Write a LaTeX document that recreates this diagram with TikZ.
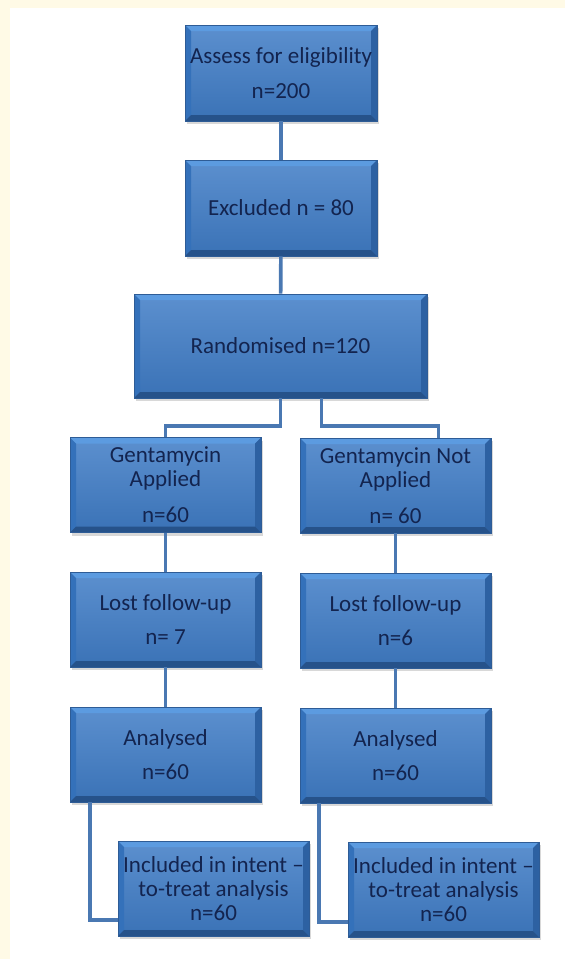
\documentclass[tikz,border=0pt]{standalone}
\usepackage{fontspec}
\setmainfont{Carlito}
\usepackage{xcolor}
\usepackage{tikz}
\usetikzlibrary{shadows}

\definecolor{cream}{HTML}{FFFAE6}
\definecolor{boxface}{HTML}{3F7CC6}
\definecolor{boxtop}{HTML}{5C9BE0}
\definecolor{boxside}{HTML}{3471BA}
\definecolor{boxdark}{HTML}{2D61A2}
\definecolor{boxline}{HTML}{2E5C96}
\definecolor{linkblue}{HTML}{4A78B2}
\definecolor{navy}{HTML}{13244F}

\begin{document}
\begin{tikzpicture}[x=1pt,y=-1pt]
			\tikzstyle{box} = [draw=boxline, line width=0.8pt, top color=boxface!85!white, bottom color=boxface!92!black,
				minimum width=191pt, minimum height=95pt, inner sep=0pt, align=center, text=navy,
				font=\fontsize{23}{24.3}\selectfont,
				drop shadow={shadow xshift=2pt, shadow yshift=-3pt, opacity=0.3},
				path picture={
					\fill[boxtop] (path picture bounding box.north west) -- (path picture bounding box.north east)
						-- ([shift={(-6pt,-6pt)}]path picture bounding box.north east) -- ([shift={(6pt,-6pt)}]path picture bounding box.north west) -- cycle;
					\fill[boxside] (path picture bounding box.north west) -- ([shift={(6pt,-6pt)}]path picture bounding box.north west)
						-- ([shift={(6pt,6pt)}]path picture bounding box.south west) -- (path picture bounding box.south west) -- cycle;
					\fill[boxdark] (path picture bounding box.north east) -- ([shift={(-6pt,-6pt)}]path picture bounding box.north east)
						-- ([shift={(-6pt,6pt)}]path picture bounding box.south east) -- (path picture bounding box.south east) -- cycle;
					\fill[boxdark!85!black] (path picture bounding box.south west) -- ([shift={(6pt,6pt)}]path picture bounding box.south west)
						-- ([shift={(-6pt,6pt)}]path picture bounding box.south east) -- (path picture bounding box.south east) -- cycle;
				}]
			\tikzset{link/.style = {draw=linkblue, line width=3.6pt}}

			% page
			\fill[cream] (0,0) rectangle (565,959);
			\fill[white] (9.5,7.5) rectangle (565,959);

			\node[box, minimum width=192pt, minimum height=96pt](assess) at (281,73) {Assess for eligibility\\[10.5pt]n=200};
			\node[box, minimum width=192pt, minimum height=96pt](excluded) at (281,208) {Excluded n = 80};
			\node[box, minimum width=293pt, minimum height=104pt](random) at (280.5,346) {Randomised n=120};

			\node[box](gentA) at (165.5,485) {Gentamycin\\Applied\\[11.7pt]n=60};
			\node[box](gentN) at (395.5,485.5) {Gentamycin Not\\Applied\\[11.7pt]n= 60};
			\node[box](lostA) at (165.5,619.5) {Lost follow-up\\[9pt]n= 7};
			\node[box](lostN) at (395.5,620.5) {Lost follow-up\\[9pt]n=6};
			\node[box](anaA) at (165.5,754.5) {Analysed\\[9.7pt]n=60};
			\node[box](anaN) at (395.5,755.5) {Analysed\\[9.7pt]n=60};
			\node[box](inclA) at (213.5,888.5) {Included in intent --\\to-treat analysis\\n=60};
			\node[box](inclN) at (443.5,889.5) {Included in intent --\\to-treat analysis\\n=60};

			\coordinate (split) at (0,426);
			\coordinate (turnA) at (90,920);
			\coordinate (turnN) at (319,922);

			\draw[link](assess) to (excluded);
			\draw[link](excluded) to (random);
			\draw[link](random.south) -- (random.south |- split) -- (gentA.north |- split) -- (gentA.north);
			\draw[link]([xshift=41pt]random.south) -- ([xshift=41pt]random.south |- split) -- ([xshift=43pt]gentN.north |- split) -- ([xshift=43pt]gentN.north);
			\draw[link](gentA) to (lostA);
			\draw[link](gentN) to (lostN);
			\draw[link](lostA) to (anaA);
			\draw[link](lostN) to (anaN);
			\draw[link](anaA.south -| turnA) -- (turnA) -- (turnA -| inclA.west);
			\draw[link](anaN.south -| turnN) -- (turnN) -- (turnN -| inclN.west);

			\end{tikzpicture}
\end{document}
